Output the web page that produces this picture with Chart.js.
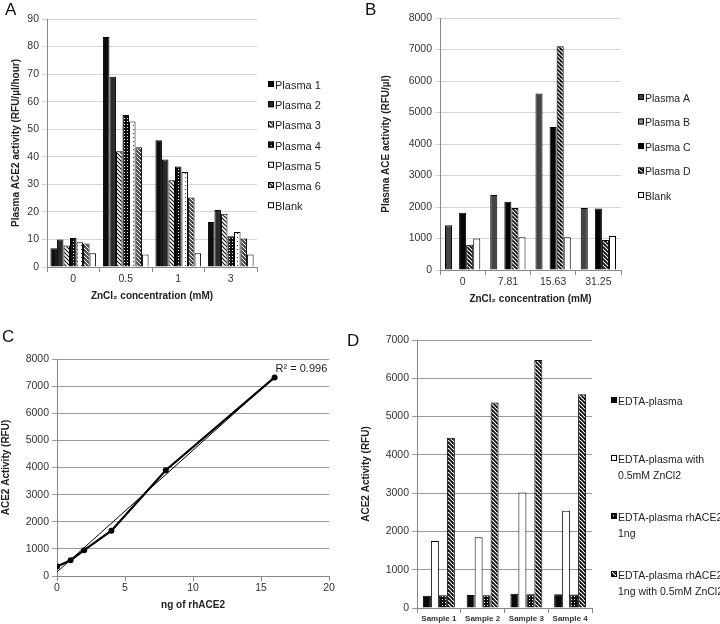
<!DOCTYPE html>
<html>
<head>
<meta charset="utf-8">
<script src="https://cdn.jsdelivr.net/npm/chart.js@4.4.1/dist/chart.umd.min.js"></script>
<style>
  body { margin: 0; background: #fff; width: 720px; height: 624px; position: relative; overflow: hidden; font-family: 'Liberation Sans', Arial, sans-serif; }
  canvas { position: absolute; }
  .tag { position: absolute; font-size: 17px; color: #111; line-height: 1; }
</style>
</head>
<body>
<canvas id="chartA" width="360" height="310" style="left:0;top:0"></canvas>
<canvas id="chartB" width="360" height="310" style="left:360px;top:0"></canvas>
<canvas id="chartC" width="360" height="314" style="left:0;top:310px"></canvas>
<canvas id="chartD" width="360" height="314" style="left:360px;top:310px"></canvas>
<div class="tag" style="left:5px;top:1px">A</div>
<div class="tag" style="left:365px;top:1px">B</div>
<div class="tag" style="left:2px;top:328px">C</div>
<div class="tag" style="left:347px;top:332px">D</div>
<script>
// --- Panel A: ACE2 activity vs ZnCl2 ---
const zincA = ['0', '0.5', '1', '3'];
const plasma1 = [6.8, 83.5, 46, 16.3];
const plasma2 = [10, 69, 39, 20.7];
const plasma3 = [7.8, 42, 31.5, 19.3];
const plasma4 = [10.5, 55.2, 36.5, 11.2];
const plasma5 = [9, 52.8, 34.5, 12.7];
const plasma6 = [8.5, 43.5, 25.2, 10.3];
const blankA = [5, 4.5, 5, 4.5];

// --- Panel B: ACE activity vs ZnCl2 ---
const zincB = ['0', '7.81', '15.63', '31.25'];
const plasmaA = [1420, 2380, 5600, 1970];
const plasmaB = [null, null, null, null];
const plasmaC = [1820, 2170, 4540, 1950];
const plasmaD = [800, 1970, 7100, 950];
const blankB = [1000, 1040, 1040, 1080];

// --- Panel C: standard curve ---
const ngRh = [0, 1, 2, 4, 8, 16];
const activityRh = [350, 580, 950, 1670, 3900, 7320];
const trendNg = [0, 16];
const trendActivity = [150, 7330];
const rSquared = 'R² = 0.996';

// --- Panel D: samples ---
const samples = ['Sample 1', 'Sample 2', 'Sample 3', 'Sample 4'];
const edta = [320, 340, 370, 360];
const edtaZn = [1750, 1850, 3020, 2540];
const edtaRh = [330, 330, 360, 350];
const edtaRhZn = [4450, 5370, 6480, 5580];

const FONT = "'Liberation Sans', Arial, sans-serif";
Chart.defaults.font.family = FONT;
Chart.defaults.font.size = 10.5;
Chart.defaults.color = '#333';
Chart.defaults.animation = false;
Chart.defaults.plugins.legend.display = false;
Chart.defaults.plugins.tooltip.enabled = false;

function makePattern(kind) {
    const c = document.createElement('canvas');
    const s = (kind === 'checker') ? 3 : 4;
    c.width = s; c.height = s;
    const g = c.getContext('2d');
    const diag = (bg, fg, w) => {
        g.fillStyle = bg; g.fillRect(0, 0, s, s);
        g.strokeStyle = fg; g.lineWidth = w; g.lineCap = 'square';
        [-s, 0, s].forEach(k => { g.beginPath(); g.moveTo(k, 0); g.lineTo(k + s, s); g.stroke(); });
    };
    if (kind === 'stripe') diag('#fff', '#111', 1.1);
    else if (kind === 'stripeBold') diag('#fff', '#111', 1.8);
    else if (kind === 'dash') { diag('#555', '#fff', 1); g.fillStyle = '#222'; g.fillRect(0, 2, 1, 1); }
    else if (kind === 'checker') { g.fillStyle = '#111'; g.fillRect(0, 0, s, s); g.fillStyle = '#eee'; g.fillRect(1, 1, 1, 1); }
    else if (kind === 'dots') { g.fillStyle = '#fff'; g.fillRect(0, 0, s, s); g.fillStyle = '#333'; g.fillRect(1, 1, 1, 1); }
    return g.createPattern(c, 'repeat');
}

// legend drawn at the right like the Excel original
const sideLegend = {
    id: 'sideLegend',
    afterDraw(chart, args, o) {
        if (o.x === undefined) return;
        const ctx = chart.ctx;
        ctx.save();
        ctx.font = o.size + 'px ' + FONT;
        ctx.textBaseline = 'middle';
        chart.data.datasets.forEach((ds, i) => {
            const y = o.y + i * o.dy;
            ctx.fillStyle = ds.backgroundColor;
            ctx.fillRect(o.x, y - o.box + 1, o.box, o.box);
            ctx.strokeStyle = '#000'; ctx.lineWidth = 1;
            ctx.strokeRect(o.x + 0.5, y - o.box + 1.5, o.box - 1, o.box - 1);
            ctx.fillStyle = '#222';
            ds.label.split('\n').forEach((t, j) => ctx.fillText(t, o.x + o.box + 1, y + j * o.lineH));
        });
        ctx.restore();
    }
};

function yScale(max, step, width, title, titlePad, gridColor) {
    return {
        min: 0, max: max,
        ticks: { stepSize: step, padding: 3, color: '#333', callback: v => String(v) },
        grid: { color: gridColor, tickLength: 5 },
        border: { color: '#888' },
        title: { display: true, text: title, color: '#222', font: { size: 10, weight: 'bold' }, padding: { top: titlePad, bottom: 0 } },
        afterFit: s => { s.width = width; }
    };
}

function xCat(height, title, titlePad, tickFont) {
    return {
        ticks: { padding: 1, color: '#333', font: tickFont },
        grid: { drawOnChartArea: false, tickLength: 5, color: '#888', offset: true },
        border: { color: '#888' },
        title: { display: !!title, text: title, color: '#222', font: { size: 10, weight: 'bold' }, padding: { top: 0, bottom: titlePad } },
        afterFit: s => { s.height = height; }
    };
}

function barSet(label, data, fill) {
    return { label: label, data: data, backgroundColor: fill, borderColor: '#000', borderWidth: 1, borderSkipped: 'start' };
}

// --- A ---
new Chart(document.getElementById('chartA'), {
    type: 'bar',
    data: {
        labels: zincA,
        datasets: [
            barSet('Plasma 1', plasma1, '#0d0d0d'),
            barSet('Plasma 2', plasma2, '#2b2b2b'),
            barSet('Plasma 3', plasma3, makePattern('stripe')),
            barSet('Plasma 4', plasma4, makePattern('checker')),
            barSet('Plasma 5', plasma5, makePattern('dots')),
            barSet('Plasma 6', plasma6, makePattern('dash')),
            barSet('Blank', blankA, '#fff')
        ]
    },
    options: {
        responsive: false,
        categoryPercentage: 0.87, barPercentage: 1,
        layout: { padding: { top: 19, right: 103, left: 0, bottom: 0 } },
        scales: {
            x: xCat(43, 'ZnCl₂ concentration (mM)', 8),
            y: yScale(90, 10, 47, 'Plasma ACE2 activity (RFU/µl/hour)', 10, '#d4d4d4')
        },
        plugins: { sideLegend: { x: 268, y: 86, dy: 20.2, box: 6, size: 11, lineH: 13 } }
    },
    plugins: [sideLegend]
});

// --- B ---
new Chart(document.getElementById('chartB'), {
    type: 'bar',
    data: {
        labels: zincB,
        datasets: [
            barSet('Plasma A', plasmaA, '#444'),
            barSet('Plasma B', plasmaB, '#8a8a8a'),
            barSet('Plasma C', plasmaC, '#050505'),
            barSet('Plasma D', plasmaD, makePattern('stripeBold')),
            barSet('Blank', blankB, '#fff')
        ]
    },
    options: {
        responsive: false,
        categoryPercentage: 0.78, barPercentage: 1,
        layout: { padding: { top: 18, right: 99, left: 0, bottom: 0 } },
        scales: {
            x: xCat(40, 'ZnCl₂ concentration (mM)', 5),
            y: yScale(8000, 1000, 80, 'Plasma ACE activity (RFU/µl)', 20, '#d4d4d4')
        },
        plugins: { sideLegend: { x: 278, y: 99, dy: 24.5, box: 6, size: 10.5, lineH: 13 } }
    },
    plugins: [sideLegend]
});

// --- C ---
const rLabel = {
    id: 'rLabel',
    afterDatasetsDraw(chart) {
        const pts = chart.getDatasetMeta(0).data;
        const last = pts[pts.length - 1];
        const ctx = chart.ctx;
        ctx.save();
        ctx.font = '11px ' + FONT;
        ctx.fillStyle = '#222';
        ctx.textBaseline = 'middle';
        ctx.fillText(rSquared, last.x + 1, last.y - 8);
        ctx.restore();
    }
};

new Chart(document.getElementById('chartC'), {
    type: 'scatter',
    data: {
        datasets: [
            {
                data: ngRh.map((x, i) => ({ x: x, y: activityRh[i] })),
                showLine: true, borderColor: '#000', borderWidth: 2.2,
                pointRadius: 3, pointBorderWidth: 0, pointBackgroundColor: '#000'
            },
            {
                data: trendNg.map((x, i) => ({ x: x, y: trendActivity[i] })),
                showLine: true, borderColor: '#000', borderWidth: 1, pointRadius: 0
            }
        ]
    },
    options: {
        responsive: false,
        layout: { padding: { top: 49, right: 31, left: 0, bottom: 0 } },
        scales: {
            x: {
                type: 'linear', min: 0, max: 20,
                ticks: { stepSize: 5, padding: 1, color: '#333' },
                grid: { drawOnChartArea: false, tickLength: 5, color: '#888' },
                border: { color: '#888' },
                title: { display: true, text: 'ng of rhACE2', color: '#222', font: { size: 10, weight: 'bold' }, padding: { top: 0, bottom: 13 } },
                afterFit: s => { s.height = 48; }
            },
            y: yScale(8000, 1000, 57, 'ACE2 Activity (RFU)', 0, '#9a9a9a')
        }
    },
    plugins: [rLabel]
});

// --- D ---
new Chart(document.getElementById('chartD'), {
    type: 'bar',
    data: {
        labels: samples,
        datasets: [
            barSet('EDTA-plasma', edta, '#0a0a0a'),
            barSet('EDTA-plasma with\n0.5mM ZnCl2', edtaZn, '#fff'),
            barSet('EDTA-plasma rhACE2\n1ng', edtaRh, makePattern('checker')),
            barSet('EDTA-plasma rhACE2\n1ng with 0.5mM ZnCl2', edtaRhZn, makePattern('stripeBold'))
        ]
    },
    options: {
        responsive: false,
        categoryPercentage: 0.73, barPercentage: 1,
        layout: { padding: { top: 30, right: 128, left: 0, bottom: 0 } },
        scales: {
            x: xCat(16, '', 0, { size: 8, weight: 'bold' }),
            y: yScale(7000, 1000, 57, 'ACE2 Activity (RFU)', 0, '#9a9a9a')
        },
        plugins: { sideLegend: { x: 251, y: 92, dy: 58, box: 6, size: 10.5, lineH: 16 } }
    },
    plugins: [sideLegend]
});
</script>
</body>
</html>
